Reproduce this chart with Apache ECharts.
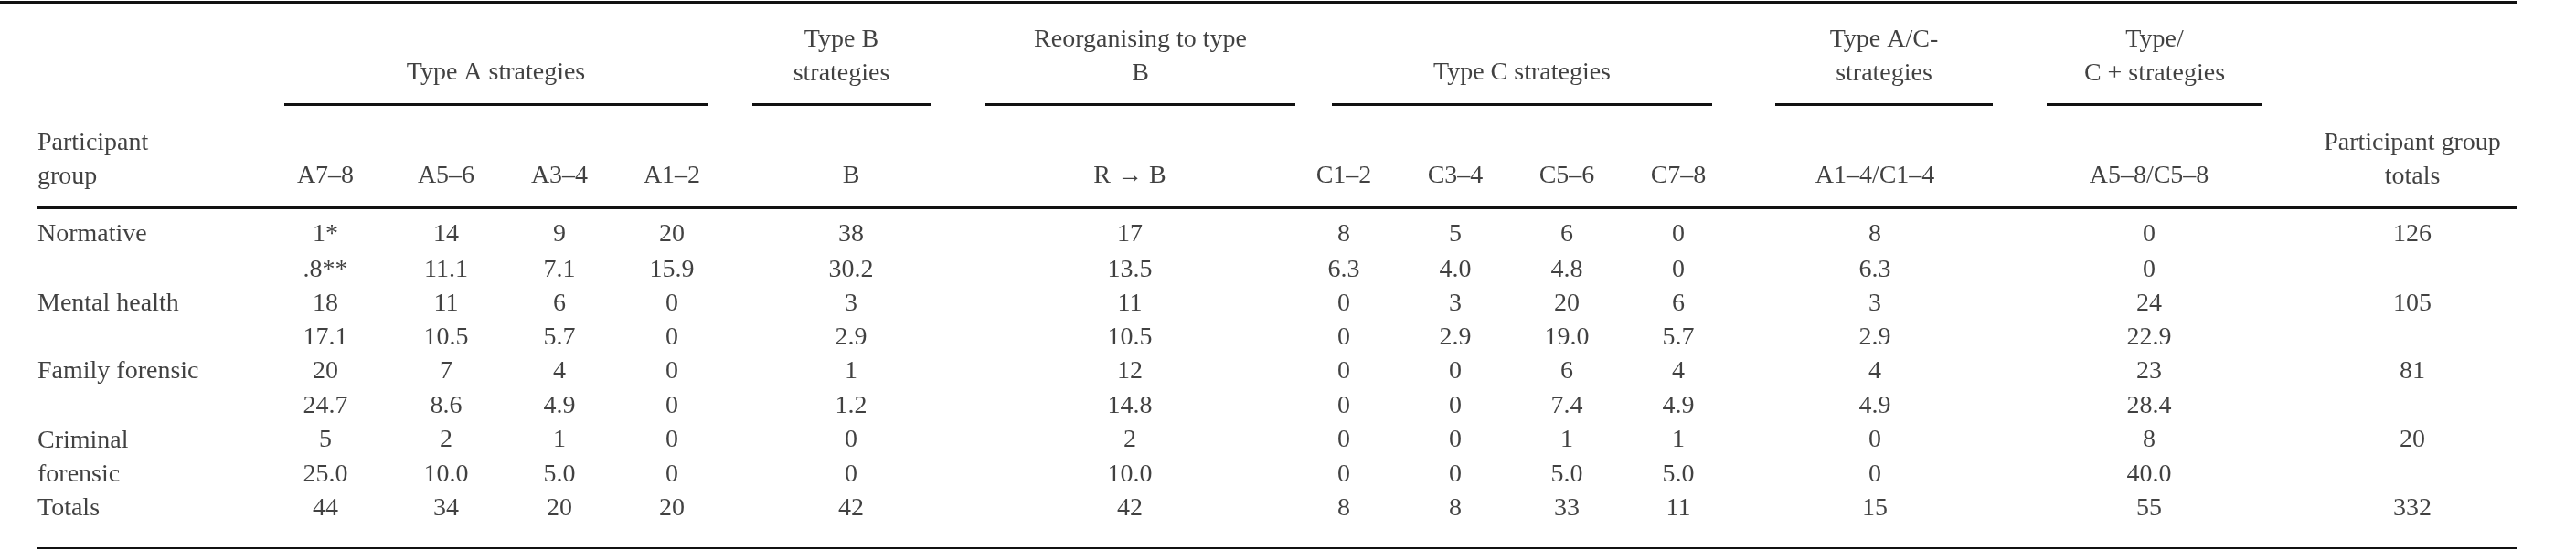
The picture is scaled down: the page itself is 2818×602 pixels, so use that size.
<!DOCTYPE html>
<html>
<head>
<meta charset="utf-8">
<script src="https://cdn.jsdelivr.net/npm/echarts@6/dist/echarts.min.js"></script>
<style>html,body{margin:0;padding:0;background:#fff}#main{width:2818px;height:602px}</style>
</head>
<body>
<div id="main"></div>
<script>
// table content
var groupHeaders = ['Type A strategies', 'Type B\nstrategies', 'Reorganising to type\nB', 'Type C strategies', 'Type A/C-\nstrategies', 'Type/\nC + strategies'];
var columns = ['A7–8', 'A5–6', 'A3–4', 'A1–2', 'B', 'R → B', 'C1–2', 'C3–4', 'C5–6', 'C7–8', 'A1–4/C1–4', 'A5–8/C5–8'];
var groups = ['Normative', 'Mental health', 'Family forensic', 'Criminal\nforensic'];
var counts = [
    ['1*', '14', '9', '20', '38', '17', '8', '5', '6', '0', '8', '0'],
    ['18', '11', '6', '0', '3', '11', '0', '3', '20', '6', '3', '24'],
    ['20', '7', '4', '0', '1', '12', '0', '0', '6', '4', '4', '23'],
    ['5', '2', '1', '0', '0', '2', '0', '0', '1', '1', '0', '8']
];
var percents = [
    ['.8**', '11.1', '7.1', '15.9', '30.2', '13.5', '6.3', '4.0', '4.8', '0', '6.3', '0'],
    ['17.1', '10.5', '5.7', '0', '2.9', '10.5', '0', '2.9', '19.0', '5.7', '2.9', '22.9'],
    ['24.7', '8.6', '4.9', '0', '1.2', '14.8', '0', '0', '7.4', '4.9', '4.9', '28.4'],
    ['25.0', '10.0', '5.0', '0', '0', '10.0', '0', '0', '5.0', '5.0', '0', '40.0']
];
var groupTotals = ['126', '105', '81', '20'];
var totals = ['44', '34', '20', '20', '42', '42', '8', '8', '33', '11', '15', '55', '332'];

// layout (pixel coordinates of the page)
var colX = [356, 488, 612, 735, 931, 1236, 1470, 1592, 1714, 1836, 2051, 2351];
var totalX = 2639;
var leftX = 41, rightX = 2753;
var groupSpan = [[311, 774], [823, 1018], [1078, 1417], [1457, 1873], [1942, 2180], [2239, 2475]];
var rowY = [[257, 296], [333, 370], [407, 445], [482, 520]];
var totalsY = 557;

var texts = [];
function put(x, y, t, align) { texts.push({ value: [x, y], label: { formatter: t, align: align || 'center' } }); }

groupHeaders.forEach(function (h, i) {
    put((groupSpan[i][0] + groupSpan[i][1]) / 2, h.indexOf('\n') >= 0 ? 62 : 80, h);
});
columns.forEach(function (c, i) { put(colX[i], 193, c); });
put(leftX, 175, 'Participant\ngroup', 'left');
put(totalX, 175, 'Participant group\ntotals');
groups.forEach(function (g, r) {
    put(leftX, g.indexOf('\n') >= 0 ? 501 : rowY[r][0], g, 'left');
    counts[r].forEach(function (v, i) { put(colX[i], rowY[r][0], v); });
    percents[r].forEach(function (v, i) { put(colX[i], rowY[r][1], v); });
    put(totalX, rowY[r][0], groupTotals[r]);
});
put(leftX, totalsY, 'Totals', 'left');
totals.forEach(function (v, i) { put(i < colX.length ? colX[i] : totalX, totalsY, v); });

var rules = [
    { coords: [[0, 2], [rightX, 2]], lineStyle: { width: 3 } },
    { coords: [[leftX, 227], [rightX, 227]], lineStyle: { width: 3 } },
    { coords: [[leftX, 600], [rightX, 600]], lineStyle: { width: 2 } }
];
groupSpan.forEach(function (s) { rules.push({ coords: [[s[0], 114], [s[1], 114]], lineStyle: { width: 3 } }); });

var myChart = echarts.init(document.getElementById('main'));
myChart.setOption({
    animation: false,
    grid: { left: 0, right: 0, top: 0, bottom: 0 },
    xAxis: { type: 'value', min: 0, max: 2818, show: false },
    yAxis: { type: 'value', min: 0, max: 602, inverse: true, show: false },
    series: [
        {
            type: 'lines', coordinateSystem: 'cartesian2d', silent: true,
            lineStyle: { color: '#111', opacity: 1 },
            data: rules
        },
        {
            type: 'scatter', symbolSize: 0, silent: true,
            label: {
                show: true, position: 'inside', verticalAlign: 'middle',
                fontFamily: 'Liberation Serif', fontSize: 28, lineHeight: 37, color: '#111'
            },
            data: texts
        }
    ]
});
</script>
</body>
</html>
